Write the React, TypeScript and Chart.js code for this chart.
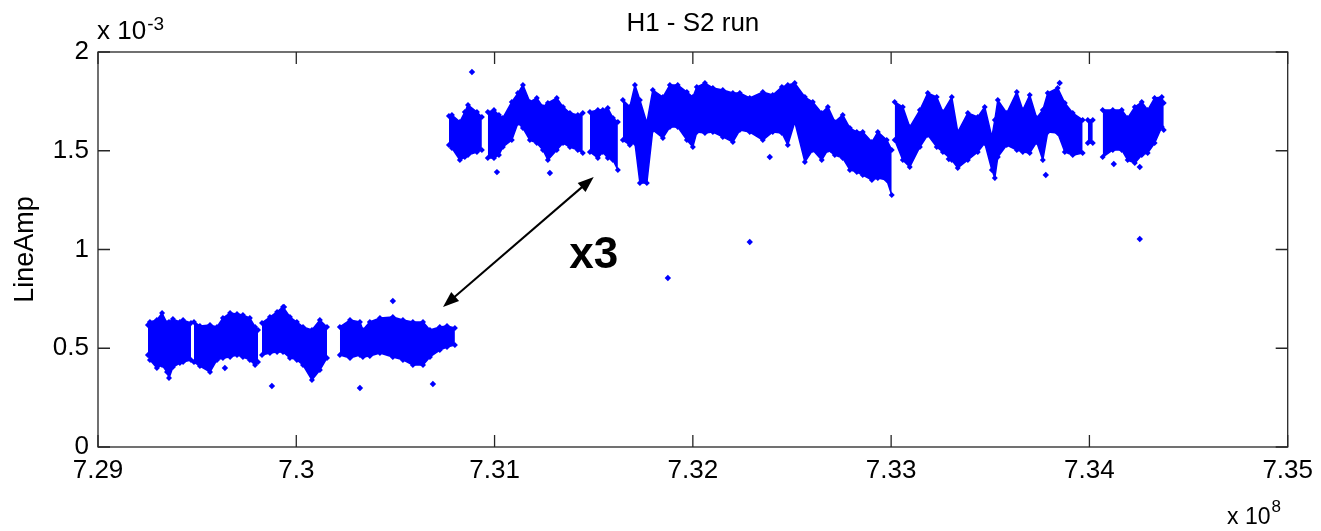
import React, { useEffect, useRef } from "react";
import { Chart, registerables } from "chart.js";

Chart.register(...registerables);

// ---- axis ticks ----
const xTicks = [7.29, 7.3, 7.31, 7.32, 7.33, 7.34, 7.35];
const yTicks = [0, 0.5, 1, 1.5, 2];

// ---- dense scatter band: upper / lower envelope (x in 1e8, y in 1e-3); null = gap ----
const bandX = [
  7.29252, 7.29262, 7.29297, 7.29323, 7.29348, 7.29358, 7.29378, 7.29413, 7.29429, 7.29469, null,
  7.29484, 7.29514, 7.29565, 7.296, 7.2963, 7.29666, 7.29701, 7.29731, 7.29766, 7.29792, 7.29807, null,
  7.29827, 7.29867, 7.29903, 7.29933, 7.29968, 7.30003, 7.30034, 7.30079, 7.30119, 7.30155, null,
  7.3022, 7.30271, 7.30321, 7.30336, 7.30371, 7.30422, 7.30487, 7.30538, 7.30588, 7.30639, 7.30674, 7.30724, 7.3076, 7.308, null,
  7.3077, 7.30785, 7.30825, 7.3085, 7.30866, 7.30911, 7.30936, null,
  7.30966, 7.30997, 7.31022, 7.31042, 7.31087, 7.31118, 7.31143, 7.31178, 7.31213, 7.31244, 7.31269, 7.31314, 7.31345, 7.3138, 7.3142, 7.31445, null,
  7.31481, 7.31521, 7.31546, 7.31571, 7.31597, 7.31622, null,
  7.31647, 7.31682, 7.31708, 7.31733, 7.31768, 7.31798, 7.31849, 7.31884, 7.31924, 7.3197, 7.32, 7.3202,
  7.32061, 7.32101, 7.32151, 7.32202, 7.32237, 7.32287, 7.32353, 7.32403, 7.32449, 7.32479, 7.32514, 7.32565,
  7.32605, 7.3265, 7.32681, 7.32716, 7.32756, 7.32792, 7.32827, 7.32857, 7.32903, 7.32933, 7.32978, 7.33003, null,
  7.33018, 7.33059, 7.33094, 7.33145, 7.33185, 7.3323, 7.33261, 7.33306, 7.33336, 7.33387, 7.33437, 7.33472, 7.33508,
  7.33523, 7.33538, 7.33583, 7.33634, 7.33664, 7.33699, 7.33734, 7.33765, 7.3379, 7.3384, 7.33876, 7.33916, 7.33966, null,
  7.33992, 7.34017, null,
  7.34067, 7.34118, 7.34163, 7.34193, 7.34229, 7.34264, 7.34294, 7.34329, 7.34365, 7.34375,
];

const bandHigh = [
  0.618, 0.633, 0.643, 0.678, 0.628, 0.633, 0.648, 0.633, 0.643, 0.628, null,
  0.633, 0.613, 0.618, 0.608, 0.653, 0.678, 0.673, 0.668, 0.653, 0.608, 0.592, null,
  0.628, 0.658, 0.684, 0.709, 0.658, 0.633, 0.608, 0.592, 0.643, 0.608, null,
  0.608, 0.643, 0.633, 0.592, 0.633, 0.653, 0.658, 0.643, 0.633, 0.633, 0.592, 0.608, 0.613, 0.603, null,
  1.676, 1.681, 1.646, 1.696, 1.732, 1.696, 1.671, null,
  1.696, 1.706, 1.681, 1.666, 1.747, 1.792, 1.833, 1.747, 1.767, 1.722, 1.742, 1.767, 1.722, 1.691, 1.681, 1.691, null,
  1.696, 1.706, 1.706, 1.716, 1.666, 1.646, null,
  1.757, 1.722, 1.833, 1.757, 1.641, 1.808, 1.772, 1.833, 1.833, 1.797, 1.772, 1.823,
  1.843, 1.818, 1.808, 1.792, 1.792, 1.767, 1.797, 1.782, 1.823, 1.833, 1.843, 1.772,
  1.747, 1.691, 1.722, 1.646, 1.681, 1.615, 1.595, 1.595, 1.544, 1.595, 1.554, 1.504, null,
  1.747, 1.722, 1.62, 1.706, 1.792, 1.772, 1.696, 1.772, 1.595, 1.691, 1.671, 1.722, 1.57,
  1.656, 1.757, 1.691, 1.797, 1.706, 1.782, 1.666, 1.706, 1.792, 1.818, 1.742, 1.691, 1.656, null,
  1.656, 1.656, null,
  1.706, 1.706, 1.706, 1.666, 1.722, 1.747, 1.706, 1.767, 1.772, 1.742,
];

const bandLow = [
  0.466, 0.441, 0.4, 0.415, 0.38, 0.349, 0.405, 0.425, 0.43, 0.441, null,
  0.43, 0.41, 0.38, 0.441, 0.451, 0.456, 0.466, 0.456, 0.441, 0.415, 0.43, null,
  0.466, 0.476, 0.481, 0.481, 0.451, 0.441, 0.415, 0.339, 0.39, 0.451, null,
  0.466, 0.451, 0.466, 0.456, 0.461, 0.476, 0.456, 0.441, 0.415, 0.415, 0.456, 0.491, 0.506, 0.516, null,
  1.529, 1.514, 1.453, 1.468, 1.478, 1.494, 1.504, null,
  1.463, 1.463, 1.478, 1.519, 1.554, 1.641, 1.615, 1.554, 1.539, 1.504, 1.453, 1.504, 1.539, 1.519, 1.504, 1.489, null,
  1.494, 1.463, 1.494, 1.463, 1.453, 1.403, null,
  1.554, 1.529, 1.539, 1.337, 1.337, 1.605, 1.565, 1.62, 1.62, 1.554, 1.519, 1.595,
  1.59, 1.595, 1.57, 1.544, 1.605, 1.595, 1.554, 1.595, 1.59, 1.529, 1.646, 1.443,
  1.504, 1.453, 1.504, 1.478, 1.463, 1.403, 1.392, 1.377, 1.352, 1.362, 1.352, 1.276, null,
  1.554, 1.453, 1.418, 1.519, 1.58, 1.519, 1.494, 1.453, 1.413, 1.453, 1.494, 1.539, 1.403,
  1.362, 1.468, 1.529, 1.504, 1.494, 1.489, 1.544, 1.453, 1.595, 1.59, 1.494, 1.478, 1.489, null,
  1.539, 1.539, null,
  1.468, 1.504, 1.504, 1.453, 1.438, 1.478, 1.489, 1.539, 1.62, 1.605,
];

// ---- isolated points ----
const outlierX = [
  7.30886, 7.30487, 7.29877, 7.30321, 7.30689, 7.2964, 7.29938, 7.31874, 7.32287,
  7.34254, 7.31012, 7.31279, 7.32388, 7.33291, 7.3378, 7.34123, 7.34254, 7.3385,
];
const outlierY = [
  1.899, 0.739, 0.309, 0.299, 0.319, 0.4, 0.709, 0.856, 1.038,
  1.053, 1.392, 1.387, 1.468, 1.458, 1.377, 1.433, 1.418, 1.843,
];

// ---- annotation ----
const arrowStart = [7.3074, 0.709];
const arrowEnd = [7.315, 1.367];
const ratioText = "x3";
const ratioAt = [7.315, 0.906];

const titleText = "H1 - S2 run";
const yAxisTitle = "LineAmp";

const BLUE = "#0000ff";
const FONT = "'Liberation Sans', Arial, Helvetica, sans-serif";

function buildPieces() {
  const pieces: { hi: { x: number; y: number }[]; lo: { x: number; y: number }[] }[] = [];
  let cur: any = null;
  for (let i = 0; i < bandX.length; i++) {
    const x = bandX[i];
    if (x === null || bandHigh[i] === null || bandLow[i] === null) {
      cur = null;
      continue;
    }
    if (!cur) {
      cur = { hi: [], lo: [] };
      pieces.push(cur);
    }
    cur.hi.push({ x, y: bandHigh[i] as number });
    cur.lo.push({ x, y: bandLow[i] as number });
  }
  return pieces;
}

const decorPlugin = {
  id: "decor",
  afterDraw(chart: any) {
    const { ctx, chartArea: a, scales } = chart;
    const xs = scales.x;
    const ys = scales.y;
    ctx.save();
    // box
    ctx.strokeStyle = "#262626";
    ctx.lineWidth = 1.3;
    ctx.strokeRect(a.left, a.top, a.right - a.left, a.bottom - a.top);
    // inward ticks
    const TL = 12;
    ctx.beginPath();
    xTicks.forEach((v) => {
      const p = xs.getPixelForValue(v);
      ctx.moveTo(p, a.bottom);
      ctx.lineTo(p, a.bottom - TL);
      ctx.moveTo(p, a.top);
      ctx.lineTo(p, a.top + TL);
    });
    yTicks.forEach((v) => {
      const p = ys.getPixelForValue(v);
      ctx.moveTo(a.left, p);
      ctx.lineTo(a.left + TL, p);
      ctx.moveTo(a.right, p);
      ctx.lineTo(a.right - TL, p);
    });
    ctx.stroke();

    ctx.fillStyle = "#000";
    // title
    ctx.font = `26px ${FONT}`;
    ctx.textAlign = "center";
    ctx.textBaseline = "alphabetic";
    ctx.fillText(titleText, (a.left + a.right) / 2, 31);

    // y exponent
    ctx.textAlign = "left";
    ctx.font = `26px ${FONT}`;
    ctx.fillText("x 10", a.left - 1, 39);
    let w = ctx.measureText("x 10").width;
    ctx.font = `19px ${FONT}`;
    ctx.fillText("-3", a.left - 1 + w + 1, 30);

    // x exponent
    ctx.font = `23px ${FONT}`;
    ctx.fillText("x 10", 1227, 524);
    w = ctx.measureText("x 10").width;
    ctx.font = `17px ${FONT}`;
    ctx.fillText("8", 1227 + w + 1, 512);

    // y axis title
    ctx.save();
    ctx.translate(33, (a.top + a.bottom) / 2);
    ctx.rotate(-Math.PI / 2);
    ctx.font = `27px ${FONT}`;
    ctx.textAlign = "center";
    ctx.fillText(yAxisTitle, 0, 0);
    ctx.restore();

    // double arrow
    const x1 = xs.getPixelForValue(arrowStart[0]);
    const y1 = ys.getPixelForValue(arrowStart[1]);
    const x2 = xs.getPixelForValue(arrowEnd[0]);
    const y2 = ys.getPixelForValue(arrowEnd[1]);
    const ang = Math.atan2(y2 - y1, x2 - x1);
    const HL = 16;
    const HW = 6;
    ctx.strokeStyle = "#000";
    ctx.lineWidth = 2;
    ctx.beginPath();
    ctx.moveTo(x1 + Math.cos(ang) * HL * 0.8, y1 + Math.sin(ang) * HL * 0.8);
    ctx.lineTo(x2 - Math.cos(ang) * HL * 0.8, y2 - Math.sin(ang) * HL * 0.8);
    ctx.stroke();
    const head = (tx: number, ty: number, dir: number) => {
      const bx = tx - Math.cos(dir) * HL;
      const by = ty - Math.sin(dir) * HL;
      ctx.beginPath();
      ctx.moveTo(tx, ty);
      ctx.lineTo(bx + Math.sin(dir) * HW, by - Math.cos(dir) * HW);
      ctx.lineTo(bx - Math.sin(dir) * HW, by + Math.cos(dir) * HW);
      ctx.closePath();
      ctx.fill();
    };
    head(x2, y2, ang);
    head(x1, y1, ang + Math.PI);

    // ratio text
    ctx.font = `bold 44px ${FONT}`;
    ctx.textAlign = "center";
    ctx.fillText(ratioText, xs.getPixelForValue(ratioAt[0]), ys.getPixelForValue(ratioAt[1]));
    ctx.restore();
  },
};

export default function App() {
  const ref = useRef<HTMLCanvasElement | null>(null);
  useEffect(() => {
    if (!ref.current) return;
    const pieces = buildPieces();
    const datasets: any[] = [];
    const common = {
      showLine: true,
      borderColor: BLUE,
      backgroundColor: BLUE,
      borderWidth: 1.5,
      pointRadius: 3,
      pointStyle: "rectRot",
      pointBackgroundColor: BLUE,
      pointBorderWidth: 0,
      tension: 0,
    };
    pieces.forEach((p) => {
      datasets.push({ ...common, data: p.hi, fill: false });
      datasets.push({ ...common, data: p.lo, fill: "-1" });
    });
    datasets.push({
      data: outlierX.map((x, i) => ({ x, y: outlierY[i] })),
      showLine: false,
      pointRadius: 3.2,
      pointStyle: "rectRot",
      pointBackgroundColor: BLUE,
      pointBorderWidth: 0,
      backgroundColor: BLUE,
      borderColor: BLUE,
    });

    const chart = new Chart(ref.current, {
      type: "scatter",
      data: { datasets },
      plugins: [decorPlugin],
      options: {
        animation: false,
        responsive: false,
        layout: { padding: { left: 0, right: 33, top: 52, bottom: 0 } },
        plugins: { legend: { display: false }, tooltip: { enabled: false }, title: { display: false } },
        scales: {
          x: {
            type: "linear",
            min: 7.29,
            max: 7.35,
            grid: { display: false, drawTicks: false },
            border: { display: false },
            afterBuildTicks: (s: any) => {
              s.ticks = xTicks.map((v) => ({ value: v }));
            },
            afterFit: (s: any) => {
              s.height = 84;
            },
            ticks: {
              padding: 8,
              maxRotation: 0,
              autoSkip: false,
              color: "#000",
              font: { family: FONT, size: 26 },
              callback: (v: any) => String(Number(Number(v).toFixed(2))),
            },
          },
          y: {
            type: "linear",
            min: 0,
            max: 2,
            grid: { display: false, drawTicks: false },
            border: { display: false },
            afterBuildTicks: (s: any) => {
              s.ticks = yTicks.map((v) => ({ value: v }));
            },
            afterFit: (s: any) => {
              s.width = 98;
            },
            ticks: {
              padding: 9,
              autoSkip: false,
              color: "#000",
              font: { family: FONT, size: 26 },
              callback: (v: any) => String(Number(Number(v).toFixed(2))),
            },
          },
        },
      },
    });
    return () => chart.destroy();
  }, []);
  return (
    <div style={{ position: "absolute", left: 0, top: 0, width: 1321, height: 531, background: "#fff" }}>
      <canvas ref={ref} width={1321} height={531} style={{ display: "block", width: 1321, height: 531 }} />
    </div>
  );
}
